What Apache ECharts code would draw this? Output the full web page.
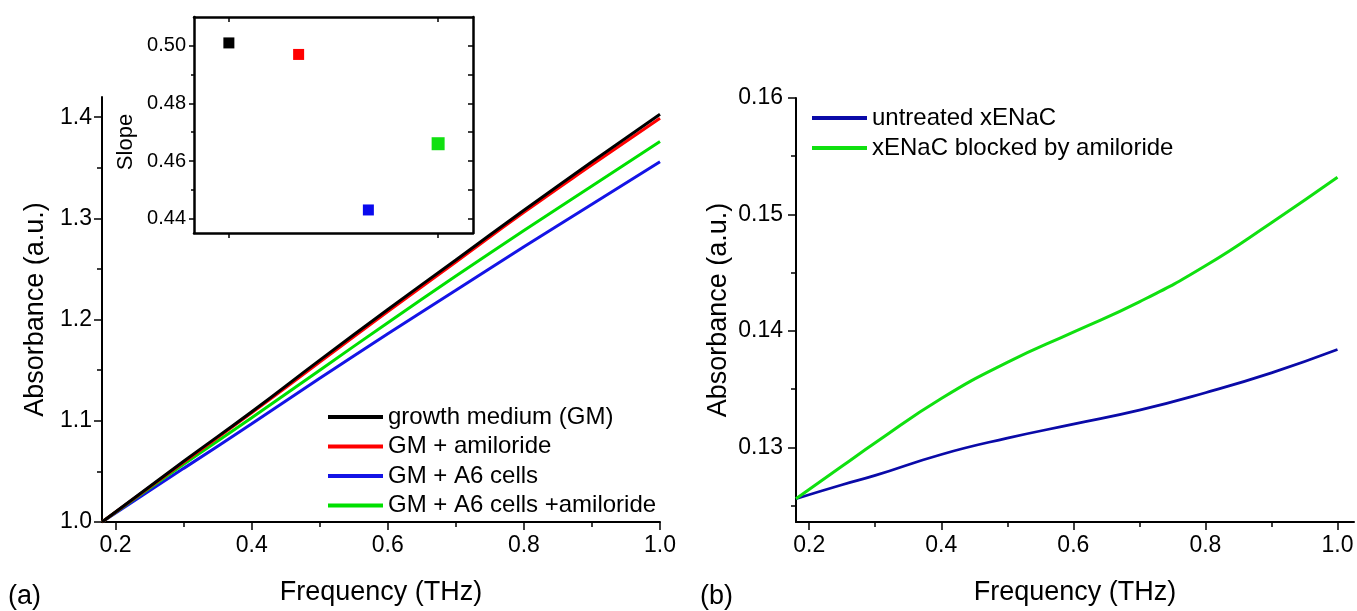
<!DOCTYPE html>
<html>
<head>
<meta charset="utf-8">
<script src="https://cdn.jsdelivr.net/npm/echarts@6/dist/echarts.min.js"></script>
<style>
  html, body { margin: 0; padding: 0; background: #fff; }
  #grafico { width: 1357px; height: 611px; }
</style>
</head>
<body>
<div id="grafico"></div>
<script>
// panel (a): frecuencias y absorbancias
var frecA = [0.18, 0.3, 0.4, 0.5, 0.6, 0.7, 0.8, 0.9, 1.0];
var absGM = [1.000, 1.060, 1.109, 1.160, 1.210, 1.259, 1.308, 1.356, 1.403];
var absGMAmil = [1.000, 1.059, 1.108, 1.158, 1.208, 1.257, 1.306, 1.353, 1.399];
var absGMA6 = [1.000, 1.053, 1.097, 1.142, 1.186, 1.229, 1.272, 1.314, 1.356];
var absGMA6Amil = [1.000, 1.057, 1.103, 1.150, 1.197, 1.243, 1.288, 1.332, 1.376];

// inset: pendientes
var muestras = ["GM", "GM + amiloride", "GM + A6 cells", "GM + A6 cells +amiloride"];
var pendientes = [0.501, 0.497, 0.443, 0.466];

// panel (b)
var frecB = [0.18, 0.25, 0.3, 0.4, 0.5, 0.6, 0.7, 0.8, 0.9, 1.0];
var absUntreated = [0.1256, 0.1268, 0.1276, 0.1294, 0.1308, 0.1320, 0.1332, 0.1347, 0.1364, 0.1384];
var absBlocked = [0.1256, 0.1284, 0.1304, 0.1342, 0.1373, 0.1399, 0.1425, 0.1456, 0.1493, 0.1532];

// ticks
var ticksXA = [0.2, 0.4, 0.6, 0.8, 1.0];
var minorXA = [0.3, 0.5, 0.7, 0.9];
var ticksYA = [1.0, 1.1, 1.2, 1.3, 1.4];
var minorYA = [1.05, 1.15, 1.25, 1.35];
var ticksYIn = [0.44, 0.46, 0.48, 0.50];
var minorYIn = [0.45, 0.47, 0.49];
var ticksYB = [0.13, 0.14, 0.15, 0.16];
var minorYB = [0.125, 0.135, 0.145, 0.155];

var fuente = "'Liberation Sans', Arial, sans-serif";
var colores = { negro: "#000000", rojo: "#ff0000", azul: "#1414e6", verde: "#00e000", azulB: "#0a0aa8", verdeB: "#10e010" };
var coloresInset = ["#000000", "#ff0000", "#0a0aee", "#10e010"];

function pares(xs, ys){
    var r = [];
    xs.forEach(function(x, i){ r.push([x, ys[i]]); });
    return r;
}

function ejeX(grid, min, max, valores, conEtiqueta, largo, nombre){
    return {
        type: "value", gridIndex: grid, min: min, max: max, position: "bottom",
        axisLine: { show: conEtiqueta, lineStyle: { color: "#000", width: 2 } },
        splitLine: { show: false },
        axisTick: { show: true, customValues: valores, length: largo, lineStyle: { color: "#000", width: 1.5 } },
        axisLabel: { show: conEtiqueta, customValues: valores, margin: 12, fontSize: 23, color: "#000", fontFamily: fuente,
            formatter: function(v){ return v.toFixed(1); } },
        name: nombre || "", nameLocation: "middle", nameGap: 57,
        nameTextStyle: { fontSize: 27, color: "#000", fontFamily: fuente }
    };
}

function ejeY(grid, min, max, valores, conEtiqueta, largo, decimales, nombre, gap, fs){
    return {
        type: "value", gridIndex: grid, min: min, max: max, position: "left",
        axisLine: { show: conEtiqueta, lineStyle: { color: "#000", width: 2 } },
        splitLine: { show: false },
        axisTick: { show: true, customValues: valores, length: largo, lineStyle: { color: "#000", width: 1.5 } },
        axisLabel: { show: conEtiqueta, customValues: valores, margin: 10, fontSize: fs || 23, color: "#000", fontFamily: fuente,
            formatter: function(v){ return v.toFixed(decimales); } },
        name: nombre || "", nameLocation: "middle", nameGap: gap || 50,
        nameTextStyle: { fontSize: 27, color: "#000", fontFamily: fuente }
    };
}

function linea(nombre, xi, yi, xs, ys, color, ancho){
    return { name: nombre, type: "line", xAxisIndex: xi, yAxisIndex: yi, data: pares(xs, ys),
        showSymbol: false, smooth: true, itemStyle: { color: color }, lineStyle: { color: color, width: ancho } };
}

function grafico(){
    var dom = document.getElementById("grafico");
    var myChart = echarts.init(dom);

    var xInset = {
        type: "category", gridIndex: 1, data: muestras, boundaryGap: true, position: "bottom",
        axisLine: { show: true, lineStyle: { color: "#000", width: 2.5 } },
        axisTick: { show: true, alignWithLabel: true, length: 5, lineStyle: { color: "#000", width: 1.5 } },
        axisLabel: { show: false }, splitLine: { show: false }
    };
    var xInsetTop = {
        type: "category", gridIndex: 1, data: muestras, boundaryGap: true, position: "top",
        axisLine: { show: true, lineStyle: { color: "#000", width: 2.5 } },
        axisTick: { show: true, inside: true, alignWithLabel: true, length: 5, lineStyle: { color: "#000", width: 1.5 } },
        axisLabel: { show: false }, splitLine: { show: false }
    };
    var yInset = ejeY(1, 0.435, 0.51, ticksYIn, true, 5, 2, "Slope", 57, 20);
    yInset.axisLine.lineStyle.width = 2.5;
    yInset.nameTextStyle = { fontSize: 22, color: "#000", fontFamily: fuente, padding: [0, 34, 0, 0] };
    yInset.axisLabel.margin = 8;
    var yInsetMinor = ejeY(1, 0.435, 0.51, minorYIn, false, 3, 2);
    var yInsetRight = ejeY(1, 0.435, 0.51, ticksYIn.concat(minorYIn), false, 5, 2);
    yInsetRight.position = "right";
    yInsetRight.axisLine = { show: true, lineStyle: { color: "#000", width: 2.5 } };
    yInsetRight.axisTick.inside = true;

    var yB = ejeY(2, 0.1236, 0.16, ticksYB, true, 8, 2, "Absorbance (a.u.)", 64);
    yB.axisLabel.margin = 13;

    var estiloTitulo = { fontSize: 27, fontWeight: "normal", color: "#000", fontFamily: fuente };
    var estiloLeyenda = { fontSize: 24, lineHeight: 26, color: "#000", fontFamily: fuente };

    var option = {
        animation: false,
        backgroundColor: "#fff",
        textStyle: { fontFamily: fuente },
        title: [
            { text: "(a)", left: 8, top: 583, padding: 0, textStyle: estiloTitulo },
            { text: "(b)", left: 700, top: 583, padding: 0, textStyle: estiloTitulo }
        ],
        legend: [
            {
                data: ["growth medium (GM)", "GM + amiloride", "GM + A6 cells", "GM + A6 cells +amiloride"],
                orient: "vertical", left: 328, top: 404, padding: 0, icon: "rect", itemWidth: 55, itemHeight: 4, itemGap: 3.5,
                selectedMode: false, textStyle: estiloLeyenda
            },
            {
                data: ["untreated xENaC", "xENaC blocked by amiloride"],
                orient: "vertical", left: 812, top: 105, padding: 0, icon: "rect", itemWidth: 55, itemHeight: 4, itemGap: 4,
                selectedMode: false, textStyle: estiloLeyenda
            }
        ],
        grid: [
            { left: 102, top: 97, width: 558, height: 431 },
            { left: 194, top: 17, width: 279, height: 216 },
            { left: 796, top: 98, width: 558, height: 430 }
        ],
        xAxis: [
            ejeX(0, 0.18, 1.0, ticksXA, true, 8, "Frequency (THz)"),
            ejeX(0, 0.18, 1.0, minorXA, false, 5),
            xInset,
            xInsetTop,
            ejeX(2, 0.18, 1.025, ticksXA, true, 8, "Frequency (THz)"),
            ejeX(2, 0.18, 1.025, minorXA, false, 5)
        ],
        yAxis: [
            ejeY(0, 1.0, 1.42, ticksYA, true, 8, 1, "Absorbance (a.u.)", 53),
            ejeY(0, 1.0, 1.42, minorYA, false, 5, 1),
            yInset,
            yInsetMinor,
            yInsetRight,
            yB,
            ejeY(2, 0.1236, 0.16, minorYB, false, 5, 3)
        ],
        series: [
            linea("GM + A6 cells", 0, 0, frecA, absGMA6, colores.azul, 3),
            linea("GM + A6 cells +amiloride", 0, 0, frecA, absGMA6Amil, colores.verde, 3),
            linea("GM + amiloride", 0, 0, frecA, absGMAmil, colores.rojo, 3),
            linea("growth medium (GM)", 0, 0, frecA, absGM, colores.negro, 3),
            {
                name: "Slope", type: "scatter", xAxisIndex: 2, yAxisIndex: 2, symbol: "rect",
                data: pendientes.map(function(v, i){
                    return { value: v, symbolSize: i == 3 ? 13 : 11, itemStyle: { color: coloresInset[i], opacity: 1 } };
                })
            },
            linea("untreated xENaC", 4, 5, frecB, absUntreated, colores.azulB, 2.7),
            linea("xENaC blocked by amiloride", 4, 5, frecB, absBlocked, colores.verdeB, 3)
        ]
    };
    myChart.setOption(option, true);
}

grafico();
</script>
</body>
</html>
